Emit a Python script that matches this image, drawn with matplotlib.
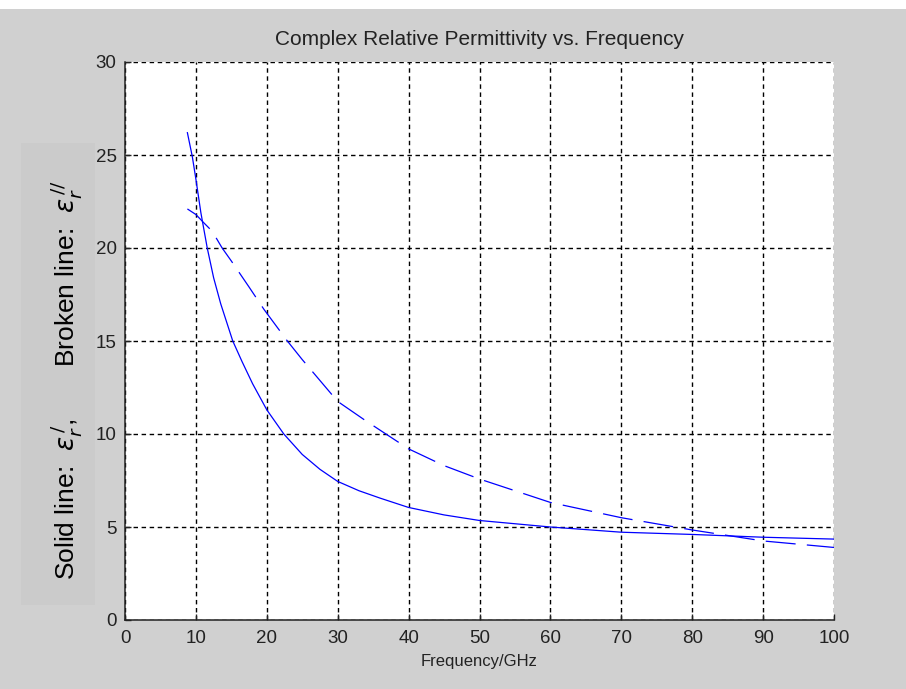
import numpy as np
import matplotlib
matplotlib.use("Agg")
import matplotlib.pyplot as plt
from matplotlib.patches import Rectangle

# values
freq_solid = [8.8, 9.5, 10, 10.7, 11.6, 12.5, 13.5, 15.2, 16.5, 18, 20, 22.4, 25, 27.5,
              30, 33, 36, 40, 45, 50, 60, 70, 80, 90, 100]
eps_real = [26.2, 24.9, 23.7, 21.9, 20.0, 18.4, 17.0, 15.0, 13.9, 12.7, 11.3, 10.0, 8.9, 8.1,
            7.45, 6.95, 6.55, 6.05, 5.65, 5.35, 5.0, 4.72, 4.6, 4.45, 4.35]

freq_broken = [8.8, 10, 11, 12.3, 13.7, 15, 17.5, 19.6, 22.9, 25, 30, 34, 40, 45, 50, 60, 70, 80, 90, 100]
eps_imag = [22.1, 21.8, 21.4, 20.9, 20.0, 19.3, 17.9, 16.7, 15.0, 14.0, 11.75, 10.7, 9.2, 8.3, 7.58, 6.32, 5.5, 4.84, 4.25, 3.9]

xticks = [0, 10, 20, 30, 40, 50, 60, 70, 80, 90, 100]
yticks = [0, 5, 10, 15, 20, 25, 30]

plt.rcParams['font.family'] = ['Liberation Sans', 'DejaVu Sans']
plt.rcParams['mathtext.fontset'] = 'dejavusans'

fig = plt.figure(figsize=(9.06, 6.89), dpi=100, facecolor='#d0d0d0')
# thin white strip at the very top and the darker box behind the y label
fig.patches.append(Rectangle((0, 1 - 9 / 689), 1, 9 / 689, transform=fig.transFigure,
                             facecolor='white', edgecolor='none', zorder=-5))
fig.patches.append(Rectangle((21 / 906, (689 - 605) / 689), 74 / 906, 462 / 689,
                             transform=fig.transFigure, facecolor='#cbcbcb',
                             edgecolor='none', zorder=-5))

ax = fig.add_axes([125 / 906, (689 - 620) / 689, 709 / 906, 558 / 689])
ax.set_facecolor('white')

ax.plot(freq_solid, eps_real, color='#0000ff', lw=0.9)
ax.plot(freq_broken, eps_imag, color='#0000ff', lw=0.9, dashes=(24, 9))

ax.set_xlim(0, 100)
ax.set_ylim(0, 30)
ax.set_xticks(xticks)
ax.set_yticks(yticks)
ax.grid(True, color='black', lw=1.0, linestyle=(0, (3.2, 2.6)))
ax.set_axisbelow(True)

for s in ['top', 'right']:
    ax.spines[s].set_visible(False)
for s in ['left', 'bottom']:
    ax.spines[s].set_color('#222222')
    ax.spines[s].set_linewidth(1.1)

ax.tick_params(direction='in', length=4, width=1.0, colors='#222222',
               labelsize=13.5, top=False, right=False)
ax.tick_params(axis='x', pad=7)
ax.tick_params(axis='y', pad=6)

ax.set_title('Complex Relative Permittivity vs. Frequency', fontsize=15, pad=12, color='#222222')
ax.set_xlabel('Frequency/GHz', fontsize=12, labelpad=5, color='#222222')
ax.set_ylabel(r'Solid line:  $\varepsilon_r^{\,/}$,       Broken line:  $\varepsilon_r^{\,//}$',
              fontsize=19, color='black', va='center')
ax.yaxis.set_label_coords(-0.083, 0.43)

fig.savefig('out.png', dpi=100, facecolor=fig.get_facecolor())
